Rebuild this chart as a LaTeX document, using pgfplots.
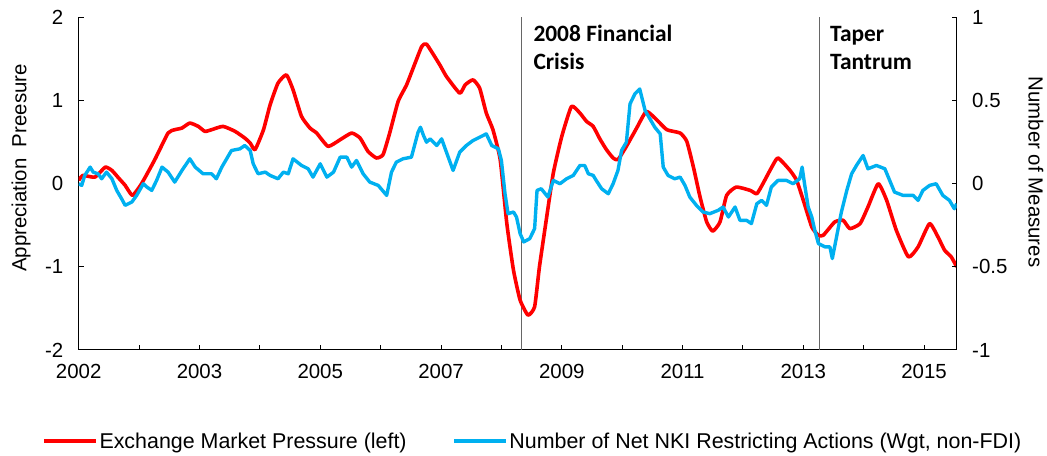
\documentclass[border=0pt]{standalone}
\usepackage{fontspec}
\setmainfont{Liberation Sans}
\newfontfamily\calibri{Carlito}
\usepackage{pgfplots}
\usepackage{pgfplotstable}
\pgfplotsset{compat=1.18}
\definecolor{emp}{RGB}{255,0,0}
\definecolor{nki}{RGB}{0,176,240}

\pgfplotstableread{
x y
0.00 0.04
0.07 0.10
0.27 0.08
0.44 0.20
0.55 0.16
0.66 0.07
0.77 -0.02
0.89 -0.14
1.04 0.00
1.26 0.29
1.48 0.61
1.59 0.65
1.71 0.67
1.84 0.73
1.98 0.69
2.09 0.63
2.20 0.65
2.39 0.69
2.59 0.63
2.75 0.55
2.84 0.49
2.92 0.41
3.06 0.65
3.17 0.95
3.30 1.21
3.44 1.31
3.55 1.13
3.69 0.81
3.83 0.67
3.94 0.61
4.13 0.45
4.33 0.53
4.52 0.61
4.66 0.55
4.79 0.39
4.93 0.31
5.04 0.35
5.15 0.61
5.29 0.99
5.43 1.19
5.57 1.45
5.68 1.65
5.76 1.68
5.98 1.43
6.09 1.29
6.31 1.09
6.40 1.19
6.53 1.25
6.64 1.15
6.75 0.85
6.86 0.65
6.98 0.29
7.09 -0.48
7.20 -1.04
7.31 -1.40
7.44 -1.58
7.55 -1.48
7.63 -1.00
7.75 -0.40
7.86 0.13
8.00 0.57
8.16 0.93
8.30 0.85
8.41 0.75
8.52 0.69
8.63 0.54
8.74 0.41
8.85 0.31
8.93 0.29
9.07 0.45
9.24 0.67
9.40 0.87
9.57 0.77
9.74 0.65
9.96 0.61
10.07 0.51
10.18 0.20
10.29 -0.16
10.40 -0.46
10.50 -0.57
10.62 -0.46
10.73 -0.14
10.89 -0.04
11.12 -0.08
11.23 -0.12
11.33 0.00
11.47 0.19
11.58 0.31
11.78 0.16
11.89 0.04
12.00 -0.20
12.14 -0.52
12.25 -0.62
12.33 -0.62
12.52 -0.46
12.66 -0.44
12.77 -0.54
12.94 -0.48
13.07 -0.28
13.24 0.00
13.38 -0.20
13.54 -0.56
13.74 -0.88
13.90 -0.76
14.09 -0.48
14.23 -0.64
14.34 -0.80
14.45 -0.88
14.54 -1.00
}\emptable

\pgfplotstableread{
x y
0.00 0.00
0.05 -0.01
0.10 0.05
0.19 0.10
0.24 0.07
0.32 0.06
0.38 0.03
0.46 0.07
0.55 0.03
0.63 -0.04
0.71 -0.09
0.77 -0.13
0.88 -0.11
0.96 -0.07
1.07 0.00
1.13 -0.02
1.21 -0.04
1.29 0.02
1.38 0.10
1.48 0.07
1.59 0.01
1.71 0.08
1.84 0.15
1.93 0.10
2.06 0.06
2.20 0.06
2.28 0.03
2.37 0.10
2.53 0.20
2.67 0.21
2.75 0.23
2.84 0.20
2.89 0.12
2.97 0.06
3.09 0.07
3.17 0.05
3.30 0.03
3.39 0.07
3.47 0.06
3.55 0.15
3.69 0.11
3.80 0.09
3.88 0.04
4.00 0.12
4.11 0.04
4.22 0.07
4.33 0.16
4.44 0.16
4.52 0.10
4.60 0.14
4.71 0.06
4.82 0.01
4.96 -0.01
5.10 -0.07
5.18 0.07
5.26 0.13
5.37 0.15
5.51 0.16
5.62 0.31
5.66 0.34
5.71 0.29
5.76 0.25
5.82 0.27
5.93 0.23
6.01 0.27
6.12 0.16
6.20 0.08
6.31 0.19
6.42 0.23
6.53 0.26
6.64 0.28
6.75 0.30
6.84 0.23
6.95 0.21
7.00 0.14
7.06 -0.06
7.11 -0.18
7.20 -0.17
7.25 -0.20
7.31 -0.30
7.37 -0.35
7.47 -0.33
7.55 -0.27
7.59 -0.04
7.66 -0.03
7.77 -0.08
7.86 0.02
7.97 0.00
8.08 0.03
8.19 0.05
8.30 0.11
8.38 0.11
8.44 0.06
8.52 0.05
8.57 0.02
8.66 -0.03
8.77 -0.06
8.85 0.00
8.93 0.08
8.99 0.20
9.07 0.25
9.13 0.48
9.21 0.54
9.29 0.57
9.38 0.44
9.46 0.39
9.54 0.34
9.63 0.30
9.68 0.10
9.76 0.05
9.87 0.03
9.96 0.04
10.04 -0.01
10.12 -0.08
10.23 -0.13
10.34 -0.17
10.45 -0.18
10.59 -0.16
10.67 -0.14
10.76 -0.20
10.87 -0.14
10.95 -0.22
11.06 -0.22
11.14 -0.24
11.23 -0.12
11.31 -0.10
11.39 -0.13
11.47 -0.02
11.58 0.02
11.72 0.02
11.83 0.00
11.94 0.03
11.98 0.10
12.02 0.00
12.08 -0.14
12.14 -0.20
12.19 -0.28
12.25 -0.36
12.36 -0.38
12.44 -0.38
12.48 -0.45
12.55 -0.32
12.63 -0.17
12.72 -0.04
12.80 0.06
12.88 0.11
12.99 0.17
13.07 0.09
13.21 0.11
13.35 0.09
13.43 0.02
13.51 -0.05
13.65 -0.07
13.82 -0.07
13.90 -0.10
13.98 -0.04
14.09 -0.01
14.20 0.00
14.31 -0.07
14.42 -0.10
14.50 -0.15
14.54 -0.12
}\nkitable

\pgfplotsset{
  common/.style={
    scale only axis, width=878bp, height=332.5bp,
    at={(78.7bp,106bp)}, anchor=south west,
    xmin=0, xmax=14.54,
    axis line style={-, black, line width=1bp},
    tick style={black, line width=1bp},
    major tick length=5bp,
    tick align=inside,
    /pgf/number format/assume math mode=true,
    ticklabel style={font=\fontsize{20.5}{24}\selectfont},
  }
}

\begin{document}
\begin{tikzpicture}
\useasboundingbox (0,0) rectangle (1047bp,456bp);
\begin{axis}[common,
  ymin=-2, ymax=2,
  axis x line*=bottom, axis y line*=left,
  xtick={0,1,...,14},
  xticklabels={2002,,2003,,2005,,2007,,2009,,2011,,2013,,2015},
  ytick={-2,-1,0,1,2},
  yticklabel style={xshift=-12bp},
  xticklabel style={yshift=-11bp},
  legend columns=2,
  legend style={at={(axis description cs:-0.0418,-0.2737)}, anchor=west,
    draw=none, fill=none, inner sep=0pt,
    font=\fontsize{21.5}{24}\selectfont,
    nodes={inner sep=1.5bp},
    /tikz/every even column/.append style={column sep=44bp}},
  legend image code/.code={\draw[#1,line width=3.8bp] (0bp,0bp) -- (52bp,0bp);},
]
\addplot[forget plot, black!60, line width=0.9bp] coordinates {(7.34,-2) (7.34,2)};
\addplot[forget plot, black!60, line width=0.9bp] coordinates {(12.26,-2) (12.26,2)};
\addplot[emp, line width=3.6bp, line join=round, smooth, tension=0.3] table[x=x,y=y] {\emptable};
\addlegendentry{Exchange Market Pressure (left)}
\addlegendimage{nki, line width=3.6bp}
\addlegendentry{Number of Net NKI Restricting Actions (Wgt, non-FDI)}
\end{axis}
\begin{axis}[common,
  ymin=-1, ymax=1,
  axis x line=none, axis y line*=right,
  ytick={-1,-0.5,0,0.5,1},
  yticklabel style={xshift=12bp},
]
\addplot[nki, line width=3.4bp, line join=round] table[x=x,y=y] {\nkitable};
\end{axis}
\node[rotate=90, font=\fontsize{20.5}{24}\selectfont, inner sep=0pt] at (21bp,288bp) {Appreciation\ \ Preesure};
\node[rotate=-90, font=\fontsize{20.5}{24}\selectfont, inner sep=0pt] at (1036bp,284bp) {Number of Measures};
\node[anchor=base west, inner sep=0pt, font=\calibri\bfseries\fontsize{23.5}{28}\selectfont] at (533.3bp,414.3bp) {2008 Financial};
\node[anchor=base west, inner sep=0pt, font=\calibri\bfseries\fontsize{23.5}{28}\selectfont] at (533.3bp,386bp) {Crisis};
\node[anchor=base west, inner sep=0pt, font=\calibri\bfseries\fontsize{23.5}{28}\selectfont] at (830bp,414.3bp) {Taper};
\node[anchor=base west, inner sep=0pt, font=\calibri\bfseries\fontsize{23.5}{28}\selectfont] at (830bp,386bp) {Tantrum};
\end{tikzpicture}
\end{document}
